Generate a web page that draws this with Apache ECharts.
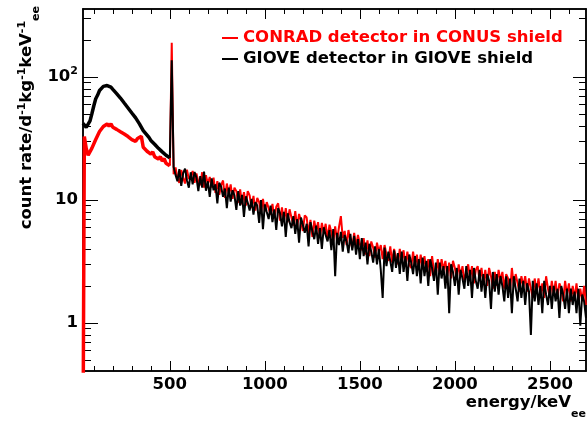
<!DOCTYPE html>
<html><head><meta charset="utf-8">
<script src="https://cdn.jsdelivr.net/npm/echarts@6/dist/echarts.min.js"></script>
<style>html,body{margin:0;padding:0;background:#fff}#c{width:587px;height:421px}</style>
</head><body><div id="c"></div>
<script>
// ---- data ----
const seriesNames = ['CONRAD detector in CONUS shield', 'GIOVE detector in GIOVE shield'];
const seriesColors = ['#ff0000', '#000000'];
// histogram binning: first (edge) bin at 43 keV, then bins every 10 keV from 50 to 2690 keV
const edgeBin = 43, binStart = 50, binWidth = 10, binEnd = 2690;

// CONRAD (red) count rate per bin, 43 keV then 50..500 keV
const conradLow = [0.1,
  32.8, 26.2, 23.1, 22.8, 26.4, 26.7, 31.0, 31.6, 36.0, 36.0,
  39.6, 38.5, 41.5, 39.8, 41.6, 39.0, 40.2, 37.5, 38.9, 35.9,
  37.2, 34.4, 35.6, 32.8, 33.8, 31.0, 32.1, 30.0, 31.6, 30.6,
  32.9, 26.8, 27.5, 24.9, 25.7, 23.6, 24.6, 22.5, 23.3, 21.5,
  22.5, 20.7, 21.7, 19.9, 20.6, 19.0];
// CONRAD 510..2690 keV (510 = annihilation line)
const conradHigh = [190,
  16.2, 18.4, 15.0, 13.8, 17.5, 15.2, 13.6, 17.6, 14.8, 15.6,
  17.2, 13.8, 16.4, 14.0, 13.2, 16.8, 12.6, 15.9, 13.5, 15.4,
  12.6, 15.2, 11.4, 14.2, 11.0, 13.2, 14.4, 10.4, 13.6, 11.2,
  13.4, 10.2, 12.6, 11.8, 9.5, 12.2, 9.2, 11.6, 9.0, 11.8,
  10.9, 8.6, 10.8, 8.2, 10.4, 9.6, 7.9, 10.2, 8.1, 9.6,
  9.8, 7.6, 9.3, 7.1, 8.8, 9.4, 6.8, 8.7, 6.6, 8.6,
  6.6, 8.4, 7.2, 6.2, 8.1, 6.0, 7.7, 6.8, 5.6, 7.5,
  7.2, 5.3, 6.9, 5.0, 6.8, 5.6, 6.6, 4.9, 6.5, 5.4,
  6.4, 4.8, 6.3, 5.5, 4.6, 6.1, 4.7, 6.0, 7.4, 4.9,
  5.6, 4.3, 5.7, 4.6, 4.1, 5.4, 4.2, 5.2, 4.4, 3.9,
  4.9, 3.6, 4.7, 3.5, 4.6, 4.1, 3.4, 4.5, 3.8, 4.3,
  3.3, 4.3, 3.6, 3.2, 4.2, 3.1, 4.0, 3.4, 3.0, 4.0,
  3.2, 3.9, 2.9, 3.8, 3.0, 2.8, 3.8, 2.9, 3.6, 2.7,
  3.6, 2.8, 3.5, 2.6, 3.3, 2.4, 3.5, 2.6, 2.5, 3.3,
  2.5, 3.3, 2.7, 3.2, 2.4, 3.1, 2.3, 3.2, 2.8, 2.3,
  3.0, 2.4, 2.9, 2.2, 2.6, 3.0, 2.3, 2.9, 2.1, 2.7,
  2.9, 2.2, 2.8, 2.1, 2.7, 2.0, 2.8, 2.4, 1.9, 2.6,
  2.0, 2.7, 2.2, 2.6, 1.9, 2.5, 2.3, 1.8, 2.8, 2.0,
  2.5, 2.1, 1.8, 2.4, 2.0, 2.4, 1.8, 2.3, 1.9, 1.6,
  2.3, 1.8, 2.3, 1.7, 2.1, 1.6, 2.4, 1.9, 1.6, 2.2,
  1.7, 2.2, 1.6, 2.1, 1.9, 1.5, 2.2, 1.7, 2.1, 1.5,
  2.0, 1.6, 2.1, 1.5, 1.9, 1.5, 2.0, 1.4];

// GIOVE (black) count rate per bin, 43 keV then 50..500 keV
const gioveLow = [42,
  41.0, 39.0, 39.6, 44.0, 50.5, 58.4, 66.6, 71.3, 77.7, 79.8,
  83.8, 83.8, 85.2, 82.8, 82.6, 79.3, 77.6, 73.3, 71.6, 67.4,
  65.6, 61.4, 59.6, 56.0, 54.5, 51.0, 50.0, 46.5, 45.4, 41.6,
  40.4, 36.7, 35.8, 33.7, 32.3, 30.5, 30.1, 28.4, 27.9, 26.3,
  25.9, 24.6, 24.2, 23.1, 22.9, 22.0];
// GIOVE 510..2690 keV
const gioveHigh = [137,
  18.5, 16.0, 14.2, 17.8, 13.0, 16.5, 18.0, 14.5, 12.6, 16.8,
  13.4, 16.9, 15.2, 11.8, 15.6, 12.6, 17.0, 11.9, 14.2, 10.6,
  15.0, 12.0, 13.4, 9.4, 13.8, 12.8, 10.6, 12.4, 8.6, 12.6,
  9.7, 12.0, 10.9, 8.3, 11.8, 9.0, 11.0, 7.3, 10.7, 9.5,
  8.2, 10.2, 7.6, 9.6, 9.0, 6.5, 10.0, 5.8, 9.2, 8.0,
  7.0, 9.0, 6.6, 8.4, 5.7, 8.6, 7.8, 6.1, 8.0, 5.0,
  7.8, 6.6, 5.9, 7.4, 5.3, 7.0, 4.5, 7.2, 6.3, 5.4,
  6.4, 4.2, 6.6, 5.6, 4.8, 6.2, 4.4, 5.9, 4.0, 6.0,
  5.2, 4.6, 5.7, 3.9, 5.8, 2.4, 5.4, 4.3, 5.5, 3.8,
  5.2, 4.6, 3.7, 5.3, 3.9, 5.1, 3.6, 4.8, 3.3, 4.9,
  3.5, 4.5, 3.0, 4.4, 3.8, 3.1, 4.2, 3.0, 4.0, 2.7,
  1.6, 4.1, 2.9, 3.8, 3.2, 2.6, 3.9, 2.8, 3.7, 2.5,
  3.8, 2.6, 3.5, 2.2, 3.6, 3.1, 2.5, 3.5, 2.4, 3.3,
  2.1, 3.4, 2.4, 3.2, 2.0, 3.3, 2.8, 2.2, 3.1, 1.7,
  3.1, 2.3, 2.9, 1.9, 2.9, 1.2, 3.0, 2.6, 2.0, 2.8,
  1.7, 2.7, 2.3, 1.9, 2.9, 2.0, 2.7, 1.6, 2.8, 2.2,
  1.9, 2.7, 1.8, 2.5, 1.6, 2.5, 2.2, 1.3, 2.6, 1.8,
  2.5, 1.7, 2.4, 2.0, 1.5, 2.4, 1.6, 2.3, 1.2, 2.4,
  1.9, 1.5, 2.3, 1.6, 2.2, 1.4, 2.1, 1.8, 0.8, 2.2,
  1.5, 2.1, 1.4, 2.0, 1.2, 2.2, 1.7, 1.4, 2.0, 1.3,
  2.0, 1.5, 1.9, 1.1, 2.0, 1.7, 1.3, 1.9, 1.2, 1.9,
  1.4, 1.8, 1.2, 1.9, 0.95, 1.7, 1.5, 1.1];

// axes
const xMin = 43, xMax = 2690;
const yMin = 0.407, yMax = 357;
const xMajorTicks = [500, 1000, 1500, 2000, 2500];
const xMinorTicks = [100, 200, 300, 400, 600, 700, 800, 900, 1100, 1200, 1300, 1400, 1600, 1700, 1800, 1900, 2100, 2200, 2300, 2400, 2600];
const yMajorTicks = [1, 10, 100];
const yMinorTicks = [0.5, 0.6, 0.7, 0.8, 0.9, 2, 3, 4, 5, 6, 7, 8, 9, 20, 30, 40, 50, 60, 70, 80, 90, 200, 300];
const yLabelText = {1: '{m|1}', 10: '{m|10}', 100: '{m|10}{sup|2}'};

// ---- build ----
const energy = [edgeBin];
for (let e = binStart; e <= binEnd; e += binWidth) energy.push(e);
const nLow = conradLow.length;
// low-energy part (thicker band) and high-energy part; they share the bin at 500 keV
const lowPairs = vals => vals.map((v, i) => [energy[i], v]);
const highPairs = (lowVals, vals) => [[energy[nLow - 1], lowVals[nLow - 1]]].concat(vals.map((v, i) => [energy[nLow + i], v]));

const FONT = 'DejaVu Sans';
const base = {fontFamily: FONT, fontWeight: 'bold', color: '#000'};
const richY = {
  m: Object.assign({fontSize: 16.5, lineHeight: 28, verticalAlign: 'middle'}, base),
  sup: Object.assign({fontSize: 11, verticalAlign: 'top', padding: [3, 0, 0, 0]}, base),
  sub: Object.assign({fontSize: 11, verticalAlign: 'bottom'}, base)
};
const richX = {
  m: Object.assign({fontSize: 16.5, lineHeight: 34, verticalAlign: 'middle'}, base),
  sup: richY.sup,
  sub: richY.sub
};
const lineStyle = {color: '#000', width: 1.5};

function xAxisDef(pos, ticks, len, withLabel) {
  return {
    type: 'value', position: pos, min: xMin, max: xMax, gridIndex: 0,
    axisLine: {show: true, onZero: false, lineStyle},
    axisTick: {show: true, inside: true, length: len, customValues: ticks, lineStyle: {color: '#000', width: 1}},
    axisLabel: withLabel ? {show: true, customValues: ticks, margin: 0, formatter: v => '{m|' + v + '}', rich: richY} : {show: false},
    splitLine: {show: false}, minorTick: {show: false}
  };
}
function yAxisDef(pos, ticks, len, withLabel) {
  return {
    type: 'log', logBase: 10, position: pos, min: yMin, max: yMax, gridIndex: 0,
    axisLine: {show: true, onZero: false, lineStyle},
    axisTick: {show: true, inside: true, length: len, customValues: ticks, lineStyle: {color: '#000', width: 1}},
    axisLabel: withLabel ? {show: true, customValues: ticks, margin: 5, formatter: v => yLabelText[Math.round(v)] || ('{m|' + v + '}'), rich: richY} : {show: false},
    splitLine: {show: false}, minorTick: {show: false}
  };
}

const xAxes = [
  xAxisDef('bottom', xMajorTicks, 10, true),
  xAxisDef('bottom', xMinorTicks, 5, false),
  xAxisDef('top', xMajorTicks, 10, false),
  xAxisDef('top', xMinorTicks, 5, false)
];
xAxes[0].name = '{m|energy/keV}{sub|ee}';
xAxes[0].nameLocation = 'end';
xAxes[0].nameGap = 0;
xAxes[0].nameMoveOverlap = false;
xAxes[0].nameTextStyle = {align: 'right', verticalAlign: 'top', padding: [15, 0, 0, 0], rich: richX};

const yAxes = [
  yAxisDef('left', yMajorTicks, 15, true),
  yAxisDef('left', yMinorTicks, 8, false),
  yAxisDef('right', yMajorTicks, 13, false),
  yAxisDef('right', yMinorTicks, 7, false)
];
yAxes[0].name = '{m|count rate/d}{sup|-1}{m|kg}{sup|-1}{m|keV}{sup|-1}{sub|ee}';
yAxes[0].nameLocation = 'end';
yAxes[0].nameRotate = 90;
yAxes[0].nameGap = 3;
yAxes[0].nameMoveOverlap = false;
yAxes[0].nameTextStyle = {align: 'right', verticalAlign: 'bottom', padding: [0, 0, 41.8, 0], rich: richY};

function lineSeries(idx, data, width, z) {
  return {name: seriesNames[idx], type: 'line', data, showSymbol: false, symbol: 'none',
    lineStyle: {color: seriesColors[idx], width}, itemStyle: {color: seriesColors[idx]}, clip: true, z};
}

const chart = echarts.init(document.getElementById('c'), null, {renderer: 'canvas'});
chart.setOption({
  animation: false,
  backgroundColor: '#fff',
  grid: {left: 83, right: 1, top: 9, bottom: 50, containLabel: false, outerBoundsMode: 'none'},
  legend: {
    orient: 'vertical', left: 222, top: 27.5, padding: 0, itemGap: 0,
    itemWidth: 16, itemHeight: 2, icon: 'rect',
    textStyle: {fontFamily: FONT, fontWeight: 'bold', fontSize: 16.5, lineHeight: 21},
    data: seriesNames.map((n, i) => ({name: n, textStyle: {color: seriesColors[i]}}))
  },
  xAxis: xAxes,
  yAxis: yAxes,
  series: [
    lineSeries(0, highPairs(conradLow, conradHigh), 2, 2),
    lineSeries(0, lowPairs(conradLow), 3.5, 2),
    lineSeries(1, highPairs(gioveLow, gioveHigh), 2, 3),
    lineSeries(1, lowPairs(gioveLow), 3.5, 3)
  ]
});
</script></body></html>
